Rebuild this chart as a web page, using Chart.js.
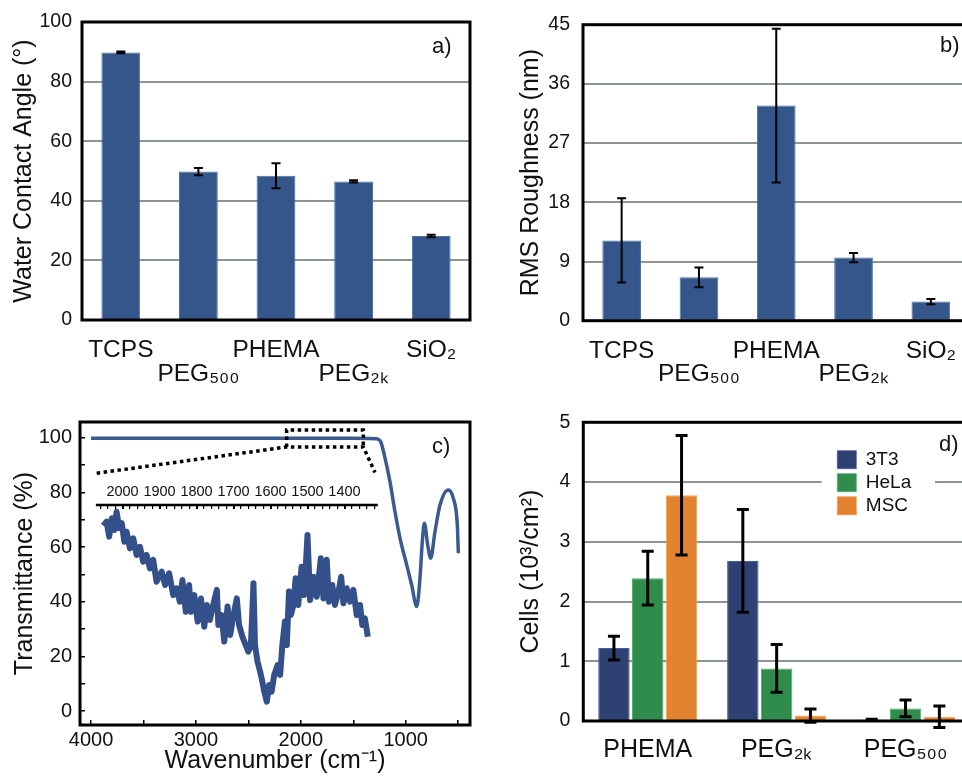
<!DOCTYPE html>
<html><head><meta charset="utf-8">
<script src="https://cdn.jsdelivr.net/npm/chart.js@4.4.0/dist/chart.umd.min.js"></script>
<style>
html,body{margin:0;padding:0;background:#fff;overflow:hidden;width:962px;height:776px;position:relative}
canvas{position:absolute}
.lab{position:absolute;font-family:"Liberation Sans",Arial,sans-serif;font-size:22px;line-height:1;color:#111}
</style></head><body>
<canvas id="ca" width="481" height="390" style="left:0;top:0"></canvas>
<canvas id="cb" width="500" height="390" style="left:481px;top:0"></canvas>
<canvas id="cc" width="481" height="386" style="left:0;top:390px"></canvas>
<canvas id="cd" width="500" height="386" style="left:481px;top:390px"></canvas>
<div class="lab" style="left:432px;top:35px">a)</div>
<div class="lab" style="left:940px;top:34px">b)</div>
<div class="lab" style="left:432px;top:435px">c)</div>
<div class="lab" style="left:939px;top:433px">d)</div>
<script>
// ---------- data ----------
const surfaces = ['TCPS', 'PEG₅₀₀', 'PHEMA', 'PEG₂ₖ', 'SiO₂'];
const contactAngle = [89.8, 49.8, 48.4, 46.5, 28.2];
const contactAngleErr = [0.3, 1.2, 4.2, 0.4, 0.4];
const roughness = [12.2, 6.6, 32.7, 9.6, 2.9];
const roughnessErr = [6.4, 1.5, 11.7, 0.7, 0.4];

const cellSurfaces = ['PHEMA', 'PEG₂ₖ', 'PEG₅₀₀'];
const cellLines = ['3T3', 'HeLa', 'MSC'];
const cells3T3 = [1.22, 2.68, 0.02];
const cells3T3Err = [0.2, 0.86, 0.01];
const cellsHeLa = [2.39, 0.88, 0.21];
const cellsHeLaErr = [0.45, 0.4, 0.14];
const cellsMSC = [3.78, 0.09, 0.07];
const cellsMSCErr = [1.0, 0.11, 0.18];

const ftirWavenumber = [4000, 3500, 3000, 2500, 2000, 1500, 1350, 1290, 1261, 1238, 1197, 1150, 1102, 1054, 990, 943, 895, 864, 842, 822, 790, 762, 721, 673, 594, 546, 508, 498];
const ftirTransmittance = [99.8, 99.8, 99.8, 99.8, 99.8, 99.8, 99.7, 99.6, 99.4, 98.5, 92.5, 83.9, 72.9, 63.2, 53.4, 46.1, 38.2, 48.5, 61.9, 68.7, 60.7, 55.9, 65.6, 75.4, 80.9, 77.8, 68.1, 57.7];
const wavenumberTicks = [4000, 3500, 3000, 2500, 2000, 1500, 1000, 500];
const wavenumberLabels = [4000, 3000, 2000, 1000];

const insetWavenumber = [2052,2043,2036,2029,2022,2016,2009,2002,1995,1989,1980,1971,1962,1953,1944,1935,1926,1917,1908,1894,1885,1874,1863,1854,1845,1838,1829,1820,1815,1806,1797,1788,1779,1772,1764,1755,1745,1741,1732,1725,1716,1709,1700,1691,1685,1676,1667,1660,1653,1646,1642,1635,1628,1622,1617,1610,1604,1597,1590,1581,1574,1568,1561,1556,1550,1545,1538,1532,1525,1516,1509,1500,1493,1484,1475,1464,1457,1448,1442,1433,1426,1417,1409,1403,1394,1385,1376,1367,1358,1352,1345,1337];
const insetTransmittance = [67.8,69.3,63.8,70.5,66.2,72.9,66.9,68.7,61.9,65.6,59.5,63.2,57.1,60.1,54.6,57.1,52.2,55.3,47.3,51.0,46.1,50.4,42.4,44.9,40.0,47.9,36.3,46.1,36.3,42.4,32.7,41.2,30.8,38.8,33.3,38.8,44.3,31.5,35.1,25.4,38.2,27.8,35.1,41.2,31.5,27.2,24.1,21.7,24.1,46.7,24.1,18.0,14.4,10.7,7.1,3.4,9.5,7.1,13.2,16.8,13.2,24.1,32.7,24.1,43.7,35.1,38.8,48.6,38.8,52.8,42.4,64.4,40.6,49.1,41.8,55.9,41.2,55.3,40.0,46.1,38.8,43.1,49.1,39.4,44.9,40.0,44.3,35.1,38.8,31.5,33.9,27.2];

const zoomBoxWn = [2135, 2135, 1404, 1404];
const zoomBoxT = [96.6, 102.8, 102.8, 96.6];
const zoomLeadWn = [3946, 2135, 1404, 1293];
const zoomLeadT = [87.0, 96.6, 96.6, 87.3];
const insetAxisWn = [2072, 1310];
const insetAxisT = [75.4, 75.4];
const insetLabelRange = [1400, 2000];

// ---------- style ----------
const FONT = '"Liberation Sans", Arial, Helvetica, sans-serif';
Chart.defaults.font.family = FONT;
Chart.defaults.color = '#111';
const GRID = '#8b9692';
const BLUE = '#34568a', BLUE_EDGE = '#4c6fa6';
const C3T3 = '#2f4172', C3T3_EDGE = '#4a5f9a';
const CHELA = '#2f8c4c', CHELA_EDGE = '#52ab6e';
const CMSC = '#e3822f', CMSC_EDGE = '#f2a35a';
const LINE = '#3b5a92';

const pts = (xs, ys) => xs.map((x, i) => ({x, y: ys[i]}));

const framePlugin = {
  id: 'frame',
  afterDatasetsDraw(chart) {
    const {ctx, chartArea: a} = chart;
    ctx.save(); ctx.lineWidth = 3; ctx.strokeStyle = '#000';
    ctx.strokeRect(a.left, a.top, a.right - a.left, a.bottom - a.top);
    ctx.restore();
  }
};
const errorBarPlugin = {
  id: 'errbars',
  afterDatasetsDraw(chart, args, opts) {
    const ctx = chart.ctx, y = chart.scales.y;
    chart.data.datasets.forEach((ds, i) => {
      if (!ds.errorBars) return;
      chart.getDatasetMeta(i).data.forEach((bar, j) => {
        const v = ds.data[j], e = ds.errorBars[j];
        const yt = y.getPixelForValue(v + e), yb = y.getPixelForValue(v - e);
        const hw = opts.cap;
        ctx.save(); ctx.strokeStyle = '#000'; ctx.lineWidth = opts.width;
        ctx.beginPath();
        ctx.moveTo(bar.x, yt); ctx.lineTo(bar.x, yb);
        ctx.moveTo(bar.x - hw, yt); ctx.lineTo(bar.x + hw, yt);
        ctx.moveTo(bar.x - hw, yb); ctx.lineTo(bar.x + hw, yb);
        ctx.stroke(); ctx.restore();
      });
    });
  }
};

function barPanel(id, values, errs, yMax, yStep, yTitle, geo) {
  return new Chart(document.getElementById(id), {
    type: 'bar',
    data: {labels: surfaces, datasets: [{data: values, errorBars: errs, backgroundColor: BLUE, borderColor: BLUE_EDGE,
      borderWidth: {left: 1, right: 1, top: 1, bottom: 0}, barPercentage: 0.5, categoryPercentage: 1}]},
    options: {
      responsive: false, animation: false, events: [],
      layout: {padding: {left: 0, top: 22, right: geo.right, bottom: 0}},
      plugins: {legend: {display: false}, tooltip: {enabled: false}, errbars: {cap: 4.5, width: 2}},
      scales: {
        x: {grid: {display: false}, border: {display: false},
          ticks: {font: {size: 24.5, lineHeight: 0.95}, padding: geo.xPad, maxRotation: 0, autoSkip: false,
            callback: function (v, i) { const l = this.getLabelForValue(v); return i % 2 ? ['', l] : l; }},
          afterFit(s) { s.height = geo.xH; }},
        y: {min: 0, max: yMax, ticks: {stepSize: yStep, font: {size: 19.5}, padding: geo.yPad},
          grid: {color: GRID, lineWidth: 2, drawTicks: false}, border: {display: false},
          title: {display: true, text: yTitle, font: {size: 25}, padding: {top: geo.tPad, bottom: 0}},
          afterFit(s) { s.width = geo.yW; }}
      }
    },
    plugins: [framePlugin, errorBarPlugin]
  });
}

barPanel('ca', contactAngle, contactAngleErr, 100, 20, 'Water Contact Angle (°)',
  {right: 11, xPad: 11, xH: 70, yPad: 10, tPad: 9.6, yW: 82});
barPanel('cb', roughness, roughnessErr, 45, 9, 'RMS Roughness (nm)',
  {right: 11.5, xPad: 10.6, xH: 69.3, yPad: 13, tPad: 35, yW: 102});

// ---------- panel c ----------
new Chart(document.getElementById('cc'), {
  type: 'scatter',
  data: {datasets: [
    {data: pts(zoomLeadWn, zoomLeadT), showLine: true, borderColor: '#000', borderWidth: 3.5, borderDash: [3.5, 3.5], pointRadius: 0},
    {data: pts(zoomBoxWn, zoomBoxT), showLine: true, borderColor: '#000', borderWidth: 3.5, borderDash: [3.5, 3.5], pointRadius: 0},
    {data: pts(ftirWavenumber, ftirTransmittance), showLine: true, borderColor: LINE, borderWidth: 3.5, pointRadius: 0, cubicInterpolationMode: 'monotone'},
    {data: pts(insetAxisWn, insetAxisT), xAxisID: 'x2', showLine: true, borderColor: '#000', borderWidth: 2.5, pointRadius: 0},
    {data: pts(insetWavenumber, insetTransmittance), xAxisID: 'x2', showLine: true, borderColor: '#34508a', borderWidth: 6, pointRadius: 0, borderJoinStyle: 'round'}
  ]},
  options: {
    responsive: false, animation: false, events: [],
    layout: {padding: {left: 0, top: 32, right: 11, bottom: 0}},
    plugins: {legend: {display: false}, tooltip: {enabled: false}},
    scales: {
      x: {type: 'linear', reverse: true, min: 387, max: 4105,
        afterBuildTicks(s) { s.ticks = wavenumberTicks.map(v => ({value: v})); },
        ticks: {autoSkip: false, maxRotation: 0, font: {size: 20}, padding: 8,
          callback: v => (wavenumberLabels.includes(v) ? String(v) : '')},
        grid: {drawOnChartArea: false, tickLength: -5, color: '#000', lineWidth: 1.5}, border: {display: false},
        title: {display: true, text: 'Wavenumber (cm⁻¹)', font: {size: 25}, padding: {top: 0, bottom: 0}},
        afterFit(s) { s.height = 51; }},
      y: {min: -5.12, max: 105.74,
        ticks: {stepSize: 10, includeBounds: false, font: {size: 20}, padding: 13,
          callback: v => (v % 20 === 0 ? String(v) : '')},
        grid: {drawOnChartArea: false, tickLength: -5, color: '#000', lineWidth: 1.5}, border: {display: false},
        title: {display: true, text: 'Transmittance (%)', font: {size: 25}, padding: {top: 10.6, bottom: 0}},
        afterFit(s) { s.width = 80; }},
      x2: {type: 'linear', axis: 'x', reverse: true, min: 1060.8, max: 2114.9, position: {y: 75.4},
        ticks: {stepSize: 20, includeBounds: false, autoSkip: false, maxRotation: 0, minRotation: 0, font: {size: 14.5}, padding: -25.9,
          callback: v => (v % 100 === 0 && v >= insetLabelRange[0] && v <= insetLabelRange[1] ? String(v) : '')},
        grid: {drawOnChartArea: false, tickLength: 4,
          color: c => (c.tick && c.tick.value >= insetAxisWn[1] && c.tick.value <= insetAxisWn[0] ? '#000' : 'rgba(0,0,0,0)'),
          lineWidth: c => (c.tick && c.tick.value % 100 === 0 ? 2 : 1.2)},
        border: {display: false}}
    }
  },
  plugins: [framePlugin]
});

// ---------- panel d ----------
const legendPlugin = {
  id: 'legendPlace',
  afterLayout(chart) {
    const L = chart.legend;
    L.left = 352.3; L.top = 56.2; L.right = L.left + L.width; L.bottom = L.top + L.height;
  },
  afterDatasetsDraw(chart) {
    const ctx = chart.ctx;
    ctx.save(); ctx.fillStyle = '#fff'; ctx.fillRect(340.7, 60, 113.3, 60); ctx.restore();
    chart.legend.draw();
  }
};
const barOpts = {barPercentage: 0.93, categoryPercentage: 0.787};
new Chart(document.getElementById('cd'), {
  type: 'bar',
  data: {labels: cellSurfaces, datasets: [
    Object.assign({label: cellLines[0], data: cells3T3, errorBars: cells3T3Err, backgroundColor: C3T3, borderColor: C3T3_EDGE, borderWidth: {left: 1, right: 1, top: 1, bottom: 0}}, barOpts),
    Object.assign({label: cellLines[1], data: cellsHeLa, errorBars: cellsHeLaErr, backgroundColor: CHELA, borderColor: CHELA_EDGE, borderWidth: {left: 1, right: 1, top: 1, bottom: 0}}, barOpts),
    Object.assign({label: cellLines[2], data: cellsMSC, errorBars: cellsMSCErr, backgroundColor: CMSC, borderColor: CMSC_EDGE, borderWidth: {left: 1, right: 1, top: 1, bottom: 0}}, barOpts)
  ]},
  options: {
    responsive: false, animation: false, events: [],
    layout: {padding: {left: 0, top: 32.3, right: 11, bottom: 0}},
    plugins: {
      legend: {display: true, position: 'chartArea', align: 'start',
        labels: {boxWidth: 19, boxHeight: 18, padding: 4, font: {size: 19}, color: '#111'}},
      tooltip: {enabled: false}, errbars: {cap: 6, width: 3}
    },
    scales: {
      x: {grid: {display: false}, border: {display: false},
        ticks: {font: {size: 25}, padding: 6.5, maxRotation: 0, autoSkip: false},
        afterFit(s) { s.height = 55; }},
      y: {min: 0, max: 5, ticks: {stepSize: 1, font: {size: 19.5}, padding: 13},
        grid: {color: GRID, lineWidth: 2, drawTicks: false}, border: {display: false},
        title: {display: true, text: 'Cells (10³/cm²)', font: {size: 25}, padding: {top: 35, bottom: 0}},
        afterFit(s) { s.width = 102.3; }}
    }
  },
  plugins: [framePlugin, legendPlugin, errorBarPlugin]
});
</script>
</body></html>
